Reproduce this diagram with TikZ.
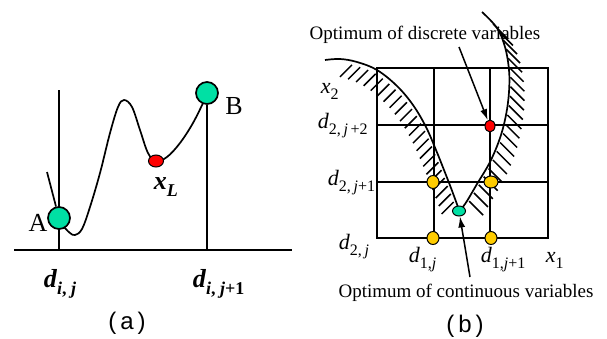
\documentclass[tikz,border=0pt]{standalone}
\usepackage{fontspec}
\setmainfont{Liberation Serif}
\newfontfamily\sansf{Liberation Sans}
\usetikzlibrary{shapes.geometric,arrows.meta,decorations.markings}
\definecolor{tealpt}{RGB}{0,224,164}
\definecolor{redpt}{RGB}{255,0,0}
\definecolor{yelpt}{RGB}{255,204,0}
\newcommand{\dsub}[2]{\textit{#1}\raisebox{-0.3em}{\fontsize{16}{16}\selectfont #2}}
\newcommand{\dsubb}[2]{\textbf{\textit{#1}}\raisebox{-0.3em}{\fontsize{18}{18}\selectfont\bfseries #2}}
\begin{document}
\begin{tikzpicture}[x=1pt,y=-1pt,line width=1.7pt,
  dotA/.style={circle,draw,fill=tealpt,line width=1.7pt,minimum size=22pt,inner sep=0pt},
  dotS/.style={ellipse,draw,line width=1pt,inner sep=0pt},
  lblA/.style={font=\fontsize{26}{26}\selectfont,inner sep=0pt,anchor=base west},
  lblB/.style={font=\fontsize{22}{22}\selectfont,inner sep=0pt,anchor=base west},
  capt/.style={font=\sansf\fontsize{24}{24}\selectfont,inner sep=0pt,anchor=base},
  note/.style={font=\fontsize{19}{19}\selectfont,inner sep=0pt,anchor=base},
  arr/.style={line width=1.5pt,-{Latex[length=11pt,width=7pt]}},
  lefthatch/.style={postaction={decorate},decoration={markings,
     mark=between positions 0.13 and 0.98 step 8.5pt with {\pgftransformresetnontranslations
       \draw[line width=1.5pt] (-1,4) -- (-13,16);}}},
  righthatch/.style={postaction={decorate},decoration={markings,
     mark=between positions 0.05 and 0.95 step 9.5pt with {\pgftransformresetnontranslations
       \draw[line width=1.5pt] (1,2) -- (15,16);}}}
]
\useasboundingbox (0,0) rectangle (607,338);

% ---------- (a) ----------
\coordinate (axL) at (14,250);
\coordinate (axR) at (292,250);
\draw[line width=2pt] (axL) -- (axR);
\coordinate (djtop) at (59,90);
\coordinate (djbot) at (59,250);
\coordinate (dj1bot) at (207,250);
\draw (djtop) -- (djbot);
\coordinate (s1) at (47,172);
\draw plot[smooth,tension=0.6] coordinates {(64,227) (70,233) (75,235) (82,229) (90,207) (100,173) (110,133) (118,107) (124,100) (132,107) (140,130) (148,153) (156,161) (167,157) (180,143) (193,123) (204,101)};
\node[dotA] (A) at (59,218) {};
\node[dotA] (B) at (207,93) {};
\draw (s1) -- (A);
\draw (B) -- (dj1bot);
\node[dotS,fill=redpt,minimum width=15pt,minimum height=12pt] (xL) at (156,161) {};
\node[lblA,anchor=base] (Alab) at (38,231) {A};
\node[lblA,anchor=base] (Blab) at (234,114) {B};
\node[lblA] (xLlab) at (153,189) {\textbf{\textit{x}}\raisebox{-0.3em}{\fontsize{18}{18}\selectfont\bfseries\itshape L}};
\node[lblA] (dij) at (43,287) {\dsubb{d}{\textit{i}, \textit{j}}};
\node[lblA] (dij1) at (192,287) {\dsubb{d}{\textit{i}, \textit{j}+1}};
\node[capt] (capa) at (127,329) {(\,a\,)};

% ---------- (b) ----------
\draw (377,68) rectangle (548,238);
\draw (434,68) -- (434,238);
\draw (490,68) -- (490,238);
\draw (377,125) -- (548,125);
\draw (377,182) -- (548,182);

\draw[lefthatch] plot[smooth,tension=0.6] coordinates {(325,60) (340,59) (357,62) (377,70) (397,86) (413,105) (426,127) (436,150) (444,170) (451,188) (458,207)};
\draw[righthatch] plot[smooth,tension=0.6] coordinates {(462,208) (467,201) (477,184) (490,162) (500,138) (506,115) (509,92) (509,70) (505,47) (497,28) (482,12)};

\node[dotS,fill=yelpt,minimum width=12pt,minimum height=13pt] (y1) at (433,182) {};
\node[dotS,fill=yelpt,minimum width=14pt,minimum height=12pt] (y2) at (491,182) {};
\node[dotS,fill=yelpt,minimum width=12pt,minimum height=13pt] (y3) at (433,238) {};
\node[dotS,fill=yelpt,minimum width=12pt,minimum height=13pt] (y4) at (491,238) {};
\node[dotS,fill=redpt,minimum width=10pt,minimum height=12pt] (rd) at (490,126) {};
\node[dotS,fill=tealpt,minimum width=13pt,minimum height=10pt] (td) at (459,211) {};

\node[note] (lblD) at (425,39) {Optimum of discrete variables};
\node[note] (lblC) at (466,297) {Optimum of continuous variables};
\coordinate (a1s) at (459,47);
\coordinate (a2s) at (470,277);
\draw[arr] (a1s) -- (rd);
\draw[arr] (a2s) -- (td);

\node[lblB] (x2) at (320,93) {\textit{x}\raisebox{-0.3em}{\fontsize{16}{16}\selectfont 2}};
\node[lblB] (d2j2) at (317,128) {\dsub{d}{2,\,\textit{j}\,+2}};
\node[lblB] (d2j1) at (327,185) {\dsub{d}{2,\,\textit{j}+1}};
\node[lblB] (d2j) at (338,249) {\dsub{d}{2,\,\textit{j}}};
\node[lblB] (d1j) at (408,262) {\dsub{d}{1,\textit{j}}};
\node[lblB] (d1j1) at (480,262) {\dsub{d}{1,\textit{j}+1}};
\node[lblB] (x1) at (545,262) {\textit{x}\raisebox{-0.3em}{\fontsize{16}{16}\selectfont 1}};
\node[capt] (capb) at (465,332) {(\,b\,)};
\end{tikzpicture}
\end{document}
